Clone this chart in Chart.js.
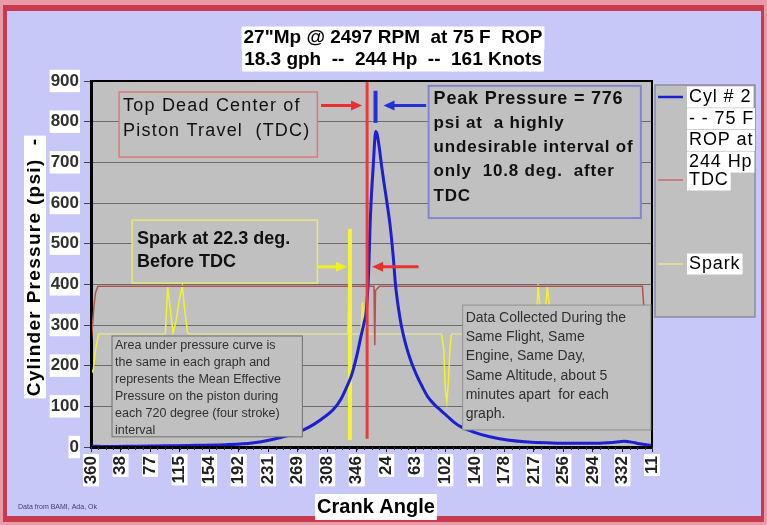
<!DOCTYPE html>
<html>
<head>
<meta charset="utf-8">
<script src="https://cdn.jsdelivr.net/npm/chart.js@4.4.1/dist/chart.umd.min.js"></script>
<style>
  html, body { margin: 0; padding: 0; background: #cacaf8; }
</style>
</head>
<body>
<canvas id="chart" width="767" height="525"></canvas>
<script>
// chart text
const titleLines = ['27"Mp @ 2497 RPM  at 75 F  ROP', '18.3 gph  --  244 Hp  --  161 Knots'];
const yTitle = 'Cylinder Pressure (psi)  -';
const xTitle = 'Crank Angle';
const sourceNote = 'Data from BAMI, Ada, Ok';

// x axis: crank angle, labels every ~38.5 deg (values wrap past 360)
const tickAngles = [360, 398.5, 437, 475.5, 514, 552.5, 591, 629.5, 668, 706.5, 745, 783.5, 822, 860.5, 899, 937.5, 976, 1014.5, 1053, 1091.5];
const tickLabels = ["360", "38", "77", "115", "154", "192", "231", "269", "308", "346", "24", "63", "102", "140", "178", "217", "256", "294", "332", "11"];

// Cyl #2 pressure trace (psi)
const cylAngles = [360, 380, 420, 460, 500, 540, 570, 595, 620, 637, 650, 663, 676, 686, 694, 700, 707, 712, 716, 719, 722, 724, 726, 728, 730, 731, 733, 736, 739, 742, 746, 750, 754, 757, 761, 765, 770, 777, 785, 792, 799, 808, 816, 825, 834, 842, 860, 880, 903, 930, 960, 990, 1020, 1040, 1055, 1065, 1075, 1091.5];
const cylPsi = [2, 1, 2, 3, 4, 6, 10, 18, 30, 42, 55, 72, 92, 118, 150, 178, 228, 272, 305, 335, 430, 550, 630, 690, 755, 776, 770, 735, 690, 650, 600, 545, 470, 400, 340, 295, 255, 212, 175, 148, 124, 104, 90, 75, 60, 50, 36, 25, 17, 12, 10, 9, 9, 11, 14, 12, 8, 4];

// TDC sensor trace
const tdcAngles = [360, 362, 364, 366, 369, 729, 730, 731, 736, 1079, 1081, 1084, 1091.5];
const tdcPsi = [250, 300, 350, 380, 395, 395, 250, 385, 395, 395, 340, 306, 300];

// Spark sensor trace
const sparkAngles = [360, 363, 366, 370, 457, 460, 464, 467, 471, 475, 479, 482, 486, 490, 695, 697.5, 697.7, 697.9, 699, 712, 714, 716, 719, 722, 817, 820, 822, 824, 826, 828, 830, 940, 943, 946, 949, 952, 955, 958, 961, 1091.5];
const sparkPsi = [180, 190, 240, 278, 278, 395, 330, 280, 310, 360, 395, 340, 280, 278, 278, 536, 17, 278, 278, 278, 355, 305, 290, 278, 278, 240, 140, 112, 160, 240, 278, 278, 400, 330, 345, 320, 395, 340, 278, 278];

// event markers
const tdcAngle = 720;
const sparkAngle = 697.7;
const peakAngle = 731;
const tdcLine = [20, 900];
const sparkLine = [17, 536];
const peakLine = [797, 876];

const seriesNames = ['Cyl # 2 - - 75 F ROP at 244 Hp', 'TDC', 'Spark'];

const F = '"Liberation Sans", Arial, sans-serif';
const pts = (xs, ys) => xs.map((x, i) => ({ x: x, y: ys[i] }));

function txt(ctx, s, x, y, o) {
  ctx.save();
  ctx.font = o.font;
  ctx.textBaseline = 'middle';
  ctx.textAlign = o.align || 'left';
  ctx.letterSpacing = (o.ls || 0) + 'px';
  if (o.bg) {
    const w = ctx.measureText(s).width;
    const l = o.align === 'center' ? x - w / 2 : o.align === 'right' ? x - w : x;
    ctx.fillStyle = o.bg;
    ctx.fillRect(l - 2, y - (o.h || 20) / 2, w + 4, o.h || 20);
  }
  ctx.fillStyle = o.color || '#000';
  ctx.fillText(s, x, y);
  ctx.restore();
}

function arrow(ctx, x0, x1, y, color) {
  const dir = x1 > x0 ? 1 : -1;
  ctx.save();
  ctx.strokeStyle = color;
  ctx.fillStyle = color;
  ctx.lineWidth = 3;
  ctx.beginPath();
  ctx.moveTo(x0, y);
  ctx.lineTo(x1 - dir * 9, y);
  ctx.stroke();
  ctx.beginPath();
  ctx.moveTo(x1, y);
  ctx.lineTo(x1 - dir * 11, y - 5);
  ctx.lineTo(x1 - dir * 11, y + 5);
  ctx.closePath();
  ctx.fill();
  ctx.restore();
}

// note boxes in data units (deg, psi)
const notes = [
  { x: [396.6, 655.2], y: [873, 713], border: '#e07878', lw: 1.5, font: '18px ' + F, ls: 1.2, first: 14, lh: 25, pad: 4,
    lines: ['Top Dead Center of', 'Piston Travel  (TDC)'] },
  { x: [800.2, 1077], y: [888, 563], border: '#8484d4', lw: 2, font: 'bold 17px ' + F, ls: 0.8, first: 13, lh: 24.3, pad: 5,
    lines: ['Peak Pressure = 776', 'psi at  a highly', 'undesirable interval of', 'only  10.8 deg.  after', 'TDC'], firstFont: 'bold 18px ' + F },
  { x: [413.6, 655.2], y: [558, 403], border: '#e8e878', lw: 1.5, font: 'bold 18px ' + F, ls: 0, first: 19, lh: 23, pad: 5,
    lines: ['Spark at 22.3 deg.', 'Before TDC'] },
  { x: [387.4, 635.6], y: [273, 25], border: '#707070', lw: 1, font: '12.5px ' + F, ls: 0, first: 10, lh: 17, pad: 3, color: '#303030',
    lines: ['Area under pressure curve is', 'the same in each graph and', 'represents the Mean Effective', 'Pressure on the piston during', 'each 720 degree (four stroke)', 'interval'] },
  { x: [844.6, 1090], y: [349, 42], border: '#909090', lw: 1, font: '14px ' + F, ls: 0, first: 13, lh: 19.2, pad: 3, color: '#303030',
    lines: ['Data Collected During the', 'Same Flight, Same', 'Engine, Same Day,', 'Same Altitude, about 5', 'minutes apart  for each', 'graph.'] }
];

const decor = {
  id: 'decor',
  beforeDraw(chart) {
    const ctx = chart.ctx, a = chart.chartArea;
    ctx.save();
    ctx.fillStyle = '#e89aa6';
    ctx.fillRect(0, 0, chart.width, chart.height);
    ctx.fillStyle = '#c83a4e';
    ctx.fillRect(3, 5, chart.width - 6, chart.height - 8);
    ctx.fillStyle = '#c8c8f8';
    ctx.fillRect(7, 11, chart.width - 13, chart.height - 20);
    ctx.fillStyle = '#c0c0c0';
    ctx.fillRect(a.left, a.top, a.right - a.left, a.bottom - a.top);
    ctx.restore();
  },
  afterDatasetsDraw(chart) {
    const ctx = chart.ctx, a = chart.chartArea;
    const xs = chart.scales.x, ys = chart.scales.y;
    ctx.save();
    ctx.strokeStyle = '#000';
    ctx.lineWidth = 2;
    ctx.strokeRect(a.left, a.top, a.right - a.left, a.bottom - a.top);
    // minor ticks on the crank angle axis
    ctx.lineWidth = 1;
    ctx.strokeStyle = '#333';
    for (let v = tickAngles[0]; v <= xs.max; v += (tickAngles[1] - tickAngles[0]) / 4) {
      const p = Math.round(xs.getPixelForValue(v)) + 0.5;
      ctx.beginPath();
      ctx.moveTo(p, a.bottom);
      ctx.lineTo(p, a.bottom + 3);
      ctx.stroke();
    }
    ctx.restore();

    notes.forEach(n => {
      const l = xs.getPixelForValue(n.x[0]), r = xs.getPixelForValue(n.x[1]);
      const t = ys.getPixelForValue(n.y[0]), b = ys.getPixelForValue(n.y[1]);
      ctx.save();
      ctx.fillStyle = '#c0c0c0';
      ctx.fillRect(l, t, r - l, b - t);
      ctx.strokeStyle = n.border;
      ctx.lineWidth = n.lw;
      ctx.strokeRect(l, t, r - l, b - t);
      ctx.restore();
      n.lines.forEach((s, i) => {
        txt(ctx, s, l + n.pad, t + n.first + i * n.lh, {
          font: i === 0 && n.firstFont ? n.firstFont : n.font, ls: n.ls, color: n.color || '#111'
        });
      });
    });

    // arrows toward the TDC, spark and peak markers
    const yTop = ys.getPixelForValue(840), ySpark = ys.getPixelForValue(443);
    arrow(ctx, xs.getPixelForValue(660), xs.getPixelForValue(tdcAngle) - 5, yTop, '#e83030');
    arrow(ctx, xs.getPixelForValue(797), xs.getPixelForValue(peakAngle) + 8, yTop, '#2430d8');
    arrow(ctx, xs.getPixelForValue(655), xs.getPixelForValue(sparkAngle) - 3, ySpark, '#f0f020');
    arrow(ctx, xs.getPixelForValue(787), xs.getPixelForValue(tdcAngle) + 5, ySpark, '#e83030');
  },
  afterDraw(chart) {
    const ctx = chart.ctx, a = chart.chartArea, xs = chart.scales.x;
    txt(ctx, titleLines[0], 393, 38, { font: 'bold 19px ' + F, align: 'center', bg: '#fff', h: 23 });
    txt(ctx, titleLines[1], 393, 60, { font: 'bold 19px ' + F, align: 'center', bg: '#fff', h: 23 });
    txt(ctx, xTitle, 376, 507, { font: 'bold 20px ' + F, align: 'center', bg: '#fff', h: 26 });
    txt(ctx, sourceNote, 18, 507, { font: '7px ' + F, color: '#404070' });
    ctx.save();
    ctx.translate(35, 267);
    ctx.rotate(-Math.PI / 2);
    txt(ctx, yTitle, 0, 0, { font: 'bold 19px ' + F, ls: 1.3, align: 'center', bg: '#fff', h: 22 });
    ctx.restore();

    // rotated crank angle labels, centred on their ticks
    tickAngles.forEach((v, i) => {
      ctx.save();
      ctx.translate(xs.getPixelForValue(v), a.bottom + 9);
      ctx.rotate(-Math.PI / 2);
      txt(ctx, tickLabels[i], 0, 0, { font: 'bold 17px ' + F, align: 'right', bg: '#fff', h: 16, color: '#222' });
      ctx.restore();
    });

    // legend box
    const lx = 655, ly = 85, lw = 100, lh = 232;
    ctx.save();
    ctx.fillStyle = '#c0c0c0';
    ctx.fillRect(lx, ly, lw, lh);
    ctx.strokeStyle = '#8a8aa4';
    ctx.lineWidth = 1.5;
    ctx.strokeRect(lx, ly, lw, lh);
    ctx.beginPath();
    ctx.rect(lx, ly, lw, lh);
    ctx.clip();
    const items = [
      { ds: 0, y: 97, lines: ['Cyl # 2', '- - 75 F', 'ROP at', '244 Hp'] },
      { ds: 1, y: 180, lines: ['TDC'] },
      { ds: 2, y: 264, lines: ['Spark'] }
    ];
    items.forEach(it => {
      const d = chart.data.datasets[it.ds];
      ctx.strokeStyle = d.legendColor;
      ctx.lineWidth = it.ds === 0 ? 2.5 : 1.5;
      ctx.beginPath();
      ctx.moveTo(lx + 3, it.y);
      ctx.lineTo(lx + 28, it.y);
      ctx.stroke();
      it.lines.forEach((s, i) => txt(ctx, s, lx + 34, it.y + i * 21.7, { font: '18px ' + F, ls: 0.9, bg: '#fff', h: 21 }));
    });
    ctx.restore();
  }
};

new Chart(document.getElementById('chart'), {
  type: 'line',
  data: {
    datasets: [
      { label: seriesNames[0], data: pts(cylAngles, cylPsi), borderColor: '#1c20d0', legendColor: '#1c20d0',
        borderWidth: 3, cubicInterpolationMode: 'monotone', order: 2 },
      { label: seriesNames[1], data: pts(tdcAngles, tdcPsi), borderColor: '#b25454', legendColor: '#d06868',
        borderWidth: 1.5, order: 4 },
      { label: seriesNames[2], data: pts(sparkAngles, sparkPsi), borderColor: '#f0f030', legendColor: '#e8e890',
        borderWidth: 1.5, order: 5,
        segment: { borderColor: c => c.p0.parsed.y === c.p1.parsed.y ? 'rgba(236,236,150,0.7)' : '#f2f22c' } },
      { label: 'TDC marker', data: pts([tdcAngle, tdcAngle], tdcLine), borderColor: '#ec3a3a', borderWidth: 3, order: 0 },
      { label: 'Spark marker', data: pts([sparkAngle, sparkAngle], sparkLine), borderColor: '#f4f430', borderWidth: 4, order: 3 },
      { label: 'Peak marker', data: pts([peakAngle, peakAngle], peakLine), borderColor: '#2430d8', borderWidth: 4, order: 1 }
    ]
  },
  options: {
    responsive: false,
    animation: false,
    devicePixelRatio: 1,
    elements: { point: { radius: 0 }, line: { tension: 0 } },
    layout: { padding: { left: 0, top: 81, right: 115, bottom: 0 } },
    plugins: { legend: { display: false }, title: { display: false }, tooltip: { enabled: false } },
    scales: {
      x: {
        type: 'linear',
        min: tickAngles[0],
        max: tickAngles[tickAngles.length - 1],
        afterBuildTicks: s => { s.ticks = tickAngles.map(v => ({ value: v })); },
        afterFit: s => { s.height = 78; },
        ticks: { display: false, autoSkip: false, callback: (v, i) => tickLabels[i] },
        grid: { drawOnChartArea: false, tickLength: 5, tickColor: '#222' },
        border: { color: '#000', width: 3 }
      },
      y: {
        min: 0, max: 900,
        afterFit: s => { s.width = 91; },
        ticks: {
          stepSize: 100, padding: 5,
          font: { family: F, size: 17, weight: 'bold' }, color: '#303030',
          showLabelBackdrop: true, backdropColor: '#fff', backdropPadding: 1
        },
        grid: { color: '#6c6c6c', tickLength: 7, tickColor: '#444' },
        border: { color: '#000', width: 3 }
      }
    }
  },
  plugins: [decor]
});
</script>
</body>
</html>
